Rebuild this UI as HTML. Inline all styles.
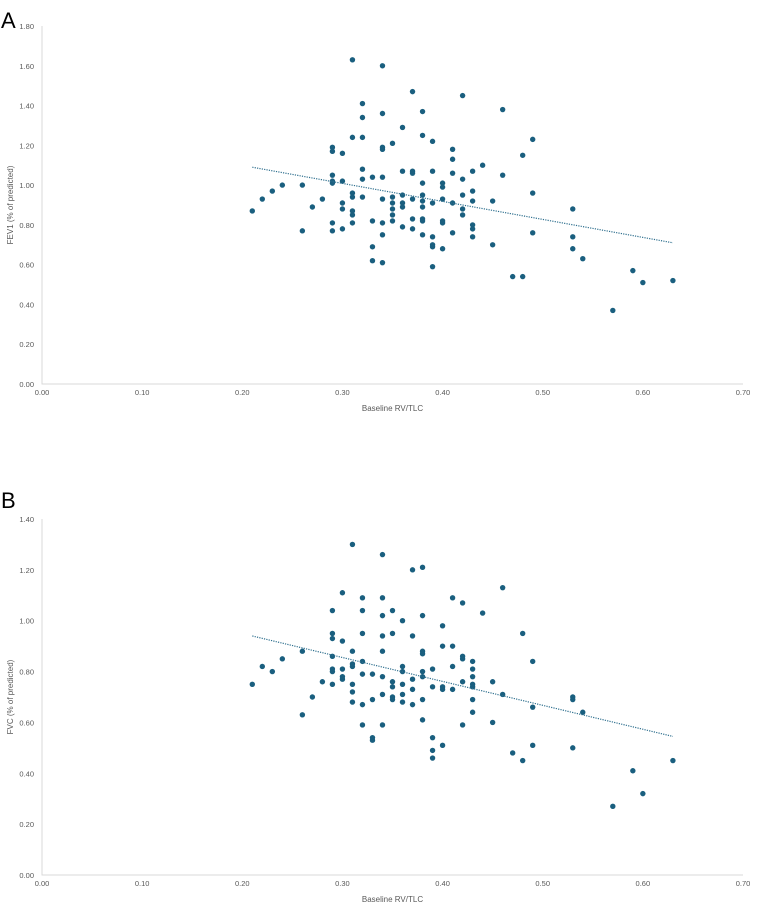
<!DOCTYPE html>
<html><head><meta charset="utf-8"><style>
body{margin:0;background:#fff;font-family:"Liberation Sans",sans-serif}
svg{display:block}
text{font-family:"Liberation Sans",sans-serif;fill:#595959}
</style></head><body>
<svg id="s" width="757" height="905"></svg>
<script>
const xTicks=[0,0.1,0.2,0.3,0.4,0.5,0.6,0.7];
const yTicksA=[0,0.2,0.4,0.6,0.8,1.0,1.2,1.4,1.6,1.8];
const yTicksB=[0,0.2,0.4,0.6,0.8,1.0,1.2,1.4];
const rvA=[0.21,0.22,0.23,0.24,0.26,0.26,0.27,0.28,0.29,0.29,0.29,0.29,0.29,0.29,0.29,0.30,0.30,0.30,0.30,0.30,0.31,0.31,0.31,0.31,0.31,0.31,0.31,0.32,0.32,0.32,0.32,0.32,0.32,0.33,0.33,0.33,0.33,0.34,0.34,0.34,0.34,0.34,0.34,0.34,0.34,0.34,0.35,0.35,0.35,0.35,0.35,0.35,0.36,0.36,0.36,0.36,0.36,0.36,0.37,0.37,0.37,0.37,0.37,0.37,0.38,0.38,0.38,0.38,0.38,0.38,0.38,0.38,0.38,0.39,0.39,0.39,0.39,0.39,0.39,0.39,0.40,0.40,0.40,0.40,0.40,0.40,0.41,0.41,0.41,0.41,0.41,0.42,0.42,0.42,0.42,0.42,0.43,0.43,0.43,0.43,0.43,0.43,0.44,0.45,0.45,0.46,0.46,0.47,0.48,0.48,0.49,0.49,0.49,0.53,0.53,0.53,0.54,0.57,0.59,0.60,0.63];
const fev1=[0.87,0.93,0.97,1.00,1.00,0.77,0.89,0.93,1.19,1.17,1.05,1.02,1.01,0.81,0.77,1.16,1.02,0.91,0.88,0.78,1.63,1.24,0.96,0.94,0.87,0.85,0.81,1.41,1.34,1.24,1.08,1.03,0.94,1.04,0.82,0.69,0.62,1.60,1.36,1.19,1.18,1.04,0.93,0.81,0.75,0.61,1.21,0.91,0.88,0.85,0.82,0.94,1.29,1.07,0.95,0.91,0.89,0.79,1.47,1.07,1.06,0.93,0.83,0.78,1.37,1.25,1.01,0.92,0.89,0.83,0.82,0.75,0.95,1.22,1.07,0.91,0.74,0.70,0.69,0.59,1.01,0.99,0.93,0.82,0.81,0.68,1.18,1.13,1.06,0.91,0.76,1.45,1.03,0.88,0.85,0.95,1.07,0.97,0.92,0.80,0.78,0.74,1.10,0.92,0.70,1.38,1.05,0.54,1.15,0.54,1.23,0.96,0.76,0.88,0.74,0.68,0.63,0.37,0.57,0.51,0.52];
const rvB=[0.21,0.22,0.23,0.24,0.26,0.26,0.27,0.28,0.29,0.29,0.29,0.29,0.29,0.29,0.29,0.30,0.30,0.30,0.30,0.30,0.31,0.31,0.31,0.31,0.31,0.31,0.31,0.32,0.32,0.32,0.32,0.32,0.32,0.32,0.33,0.33,0.33,0.33,0.34,0.34,0.34,0.34,0.34,0.34,0.34,0.34,0.35,0.35,0.35,0.35,0.35,0.35,0.36,0.36,0.36,0.36,0.36,0.36,0.37,0.37,0.37,0.37,0.37,0.38,0.38,0.38,0.38,0.38,0.38,0.38,0.38,0.39,0.39,0.39,0.39,0.39,0.40,0.40,0.40,0.40,0.40,0.41,0.41,0.41,0.41,0.42,0.42,0.42,0.42,0.42,0.43,0.43,0.43,0.43,0.43,0.43,0.43,0.44,0.45,0.45,0.46,0.46,0.47,0.48,0.48,0.49,0.49,0.49,0.53,0.53,0.53,0.54,0.57,0.59,0.60,0.63];
const fvc=[0.75,0.82,0.80,0.85,0.88,0.63,0.70,0.76,1.04,0.95,0.93,0.86,0.81,0.80,0.75,1.11,0.92,0.81,0.78,0.77,1.30,0.88,0.83,0.82,0.75,0.72,0.68,1.09,1.04,0.95,0.84,0.79,0.67,0.59,0.79,0.69,0.54,0.53,1.26,1.09,1.02,0.94,0.88,0.78,0.71,0.59,1.04,0.95,0.76,0.74,0.70,0.69,1.00,0.82,0.80,0.75,0.71,0.68,1.20,0.94,0.77,0.73,0.67,1.21,1.02,0.88,0.87,0.80,0.78,0.69,0.61,0.81,0.74,0.54,0.49,0.46,0.98,0.90,0.74,0.73,0.51,1.09,0.90,0.82,0.73,1.07,0.86,0.85,0.76,0.59,0.84,0.81,0.78,0.75,0.74,0.69,0.64,1.03,0.76,0.60,1.13,0.71,0.48,0.95,0.45,0.84,0.66,0.51,0.70,0.69,0.50,0.64,0.27,0.41,0.32,0.45];
const trendA=[[0.21,1.09],[0.63,0.71]];
const trendB=[[0.21,0.94],[0.63,0.545]];

const NS='http://www.w3.org/2000/svg';
const svg=document.getElementById('s');
function el(t,a,p){const e=document.createElementNS(NS,t);for(const k in a)e.setAttribute(k,a[k]);(p||svg).appendChild(e);return e;}
function chart(cfg){
  const g=el('g',{});
  
  
  const L=42,R=743,B=cfg.bottom,T=cfg.top,ymax=cfg.ymax;
  const sx=v=>L+v/0.7*(R-L), sy=v=>B-v/ymax*(B-T);
  const lab=el('text',{x:1,y:cfg.bottom-cfg.labelOff,'font-size':22,style:'fill:#000'},g);lab.textContent=cfg.letter;
  
  
  const ax=el('path',{d:`M${L} ${T}V${B}H${R}`,stroke:'#d9d9d9',fill:'none','stroke-width':1},g);
  
  
  cfg.yticks.forEach(v=>{const t=el('text',{x:L-8,y:sy(v)+3,'font-size':7.5,'text-anchor':'end'},g);t.textContent=v.toFixed(2);
    
    });
  xTicks.forEach(v=>{const t=el('text',{x:sx(v),y:B+11,'font-size':7.5,'text-anchor':'middle'},g);t.textContent=v.toFixed(2);
    
    });
  const xt=el('text',{x:(L+R)/2,y:B+27,'font-size':8,'text-anchor':'middle'},g);xt.textContent='Baseline RV/TLC';
  
  
  const cy=(T+B)/2;
  const yt=el('text',{x:13,y:cy,'font-size':8,'text-anchor':'middle',transform:`rotate(-90 13 ${cy})`},g);yt.textContent=cfg.ytitle;
  
  
  cfg.xs.forEach((x,i)=>{const c=el('circle',{cx:sx(x),cy:sy(cfg.ys[i]),r:2.7,fill:'#1a5f7f'},g);
    
    });
  const tl=el('line',{x1:sx(cfg.trend[0][0]),y1:sy(cfg.trend[0][1]),x2:sx(cfg.trend[1][0]),y2:sy(cfg.trend[1][1]),stroke:'#2e6f8e','stroke-width':1.2,'stroke-dasharray':'1.2 1.2'},g);
  
  
}
chart({name:'chart-fev1',letter:'A',bottom:384,top:26,ymax:1.8,labelOff:356,yticks:yTicksA,xs:rvA,ys:fev1,trend:trendA,ytitle:'FEV1 (% of predicted)'});
chart({name:'chart-fvc',letter:'B',bottom:875,top:519,ymax:1.4,labelOff:367,yticks:yTicksB,xs:rvB,ys:fvc,trend:trendB,ytitle:'FVC (% of predicted)'});
</script>
</body></html>
